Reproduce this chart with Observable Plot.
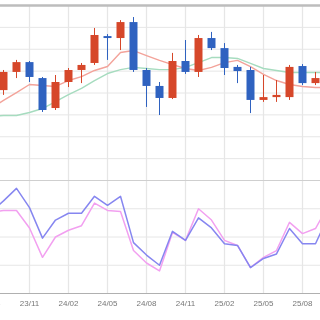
<!DOCTYPE html>
<html><head><meta charset="utf-8">
<script src="https://cdn.jsdelivr.net/npm/d3@7"></script>
<script src="https://cdn.jsdelivr.net/npm/@observablehq/plot@0.6"></script>
<style>
html,body{margin:0;padding:0;background:#fff;}
#chart{width:320px;height:320px;overflow:hidden;position:relative;background:#fff;filter:blur(0.4px);}
#chart svg{display:block;}
</style></head><body><div id="chart"></div>
<script>
// monthly candles (Japanese convention: red = up, blue = down)
const months = ["23/08","23/09","23/10","23/11","23/12","24/01","24/02","24/03","24/04","24/05","24/06","24/07","24/08","24/09","24/10","24/11","24/12","25/01","25/02","25/03","25/04","25/05","25/06","25/07","25/08","25/09","25/10"];
const tickMonths = ["23/08","23/11","24/02","24/05","24/08","24/11","25/02","25/05","25/08"];
const open  = [null,1011,1094,1139,1066, 929,1048,1103,1135,1258,1249,1322,1103,1030, 975,1144,1094,1249,1203,1117,1103, 966, 979, 979,1121,1043,null];
const close = [null,1094,1139,1071, 920,1048,1103,1126,1263,1249,1322,1103,1030, 975,1144,1094,1249,1203,1112,1098, 966, 979, 989,1117,1043,1066,null];
const high  = [null,1103,1149,1144,1071,1080,1112,1135,1295,1267,1331,1345,1112,1048,1181,1240,1263,1277,1226,1126,1117,1080,1057,1126,1130,1094,null];
const low   = [null, 989,1066,1048, 911, 920,1025,1043,1126,1149,1194,1094, 934, 897, 970,1085,1071,1194,1080,1043, 906, 957, 957, 966,1034,1034,null];
const maShort = [929,966,1002,1039,1034,1030,1057,1075,1103,1121,1185,1194,1171,1149,1130,1112,1103,1117,1139,1149,1121,1085,1057,1039,1030,1025,1025];
const maLong  = [893,897,897,911,929,961,993,1021,1057,1089,1107,1117,1112,1107,1107,1117,1139,1162,1162,1158,1135,1112,1103,1094,1094,1094,1094];
// lower oscillator panel
const oscBlue = [72,82,93,76,49,65,71,71,86,78,86,45,34,25,55,47,67,58,44,42.5,23,31,35,57.5,44,44,69];
const oscPink = [72,73.5,73.5,58,32,50,56,60,80,73.5,72.5,38,27,20,54,47,75,65,47,42.5,23,32,38,63,53,57.5,78];
const priceGrid = [700,800,900,1000,1100,1200,1300];
const priceTop = [1400];
const oscGrid = [25,50,75];
const oscTop = [100];
const oscBase = [0];

const rows = months.map((m,i)=>({m, o:open[i], c:close[i], h:high[i], l:low[i],
  s:maShort[i], g:maLong[i], b:oscBlue[i], p:oscPink[i]}));
const candles = rows.filter(d=>d.o!=null);
const UP = "#d6472a", DOWN = "#2f62c0";
const col = d => d.c >= d.o ? UP : DOWN;

const xScale = {type:"point", domain: months, range:[-11.15, 330.05], padding:0};
const font = "'Liberation Sans', Arial, sans-serif";

const topChart = Plot.plot({
  width:320, height:176, marginTop:5, marginBottom:0, marginLeft:0, marginRight:0,
  style:{background:"transparent", fontFamily:font},
  x:{...xScale, axis:null},
  y:{domain:[618.3,1400], axis:null},
  marks:[
    Plot.ruleY(priceGrid, {stroke:"#e6e6e6", strokeWidth:1}),
    Plot.ruleX(tickMonths, {stroke:"#e6e6e6", strokeWidth:1.3}),
    Plot.line(rows, {x:"m", y:"g", stroke:"#a6dcbf", strokeWidth:1.4, clip:true}),
    Plot.line(rows, {x:"m", y:"s", stroke:"#f3a39a", strokeWidth:1.4, clip:true}),
    Plot.ruleX(candles, {x:"m", y1:"l", y2:"h", stroke:col, strokeWidth:1, clip:true}),
    Plot.ruleX(candles, {x:"m", y1:"o", y2:"c", stroke:col, strokeWidth:8, clip:true}),
    Plot.ruleY(priceTop, {stroke:"#bdbdbd", strokeWidth:2.5})
  ]
});

const botChart = Plot.plot({
  width:320, height:144, marginTop:0, marginBottom:27, marginLeft:0, marginRight:0,
  style:{background:"transparent", fontFamily:font},
  x:xScale,
  y:{domain:[0,103.54], axis:null},
  marks:[
    Plot.ruleY(oscGrid, {stroke:"#e6e6e6", strokeWidth:1}),
    Plot.ruleX(tickMonths, {stroke:"#e6e6e6", strokeWidth:1.3}),
    Plot.ruleY(oscTop, {stroke:"#cfcfcf", strokeWidth:1}),
    Plot.line(rows, {x:"m", y:"p", stroke:"#f2a0f0", strokeWidth:1.5, clip:true}),
    Plot.line(rows, {x:"m", y:"b", stroke:"#8686f0", strokeWidth:1.5, clip:true}),
    Plot.ruleY(oscBase, {stroke:"#b0b0b0", strokeWidth:1.2}),
    Plot.axisX(tickMonths, {tickSize:0, tickPadding:7, fontSize:8, fill:"#777", label:null})
  ]
});

const el = document.getElementById("chart");
el.append(topChart, botChart);
</script>
</body></html>
